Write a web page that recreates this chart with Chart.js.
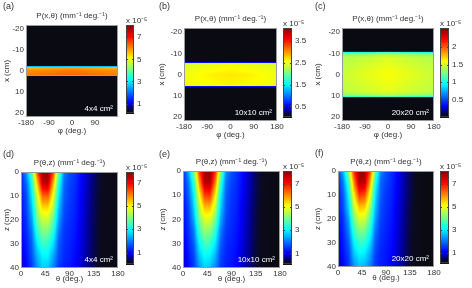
<!DOCTYPE html>
<html>
<head>
<meta charset="utf-8">
<script src="https://cdn.jsdelivr.net/npm/chart.js@4.4.0/dist/chart.umd.min.js"></script>
<style>
  html, body { margin: 0; padding: 0; background: #fff; }
  #fig { position: relative; width: 472px; height: 288px; overflow: hidden; font-family: "Liberation Sans", Arial, sans-serif; }
  #fig canvas { position: absolute; }
  .tag { position: absolute; font-size: 9px; color: #333; line-height: 9px; }
</style>
</head>
<body>
<div id="fig"></div>
<script>
// ---- data (values in units of 1e-5 mm^-1 deg^-1) ----

// top row: P(x, phi), rows = x nodes (cm), columns = phi nodes (deg)
const phiNodes = [-180, -90, 0, 90, 180];

const xNodesA = [-22, -2.8, -2.3, -1.9, 0, 1.9, 2.3, 2.8, 22];
const valsA = [
  [0, 0, 0, 0, 0],
  [0, 0, 0, 0, 0],
  [0.8, 0.8, 0.8, 0.8, 0.8],
  [5.6, 5.7, 5.8, 5.7, 5.6],
  [6.0, 6.1, 6.2, 6.1, 6.0],
  [6.1, 6.2, 6.3, 6.2, 6.1],
  [0.8, 0.8, 0.8, 0.8, 0.8],
  [0, 0, 0, 0, 0],
  [0, 0, 0, 0, 0]
];

const xNodesB = [-22, -6.0, -5.6, -5.2, 0, 5.2, 5.6, 6.0, 22];
const valsB = [
  [0, 0, 0, 0, 0],
  [0, 0, 0, 0, 0],
  [0.7, 0.7, 0.7, 0.7, 0.7],
  [2.4, 2.45, 2.5, 2.45, 2.4],
  [2.5, 2.6, 2.65, 2.6, 2.5],
  [2.5, 2.55, 2.6, 2.55, 2.5],
  [0.7, 0.7, 0.7, 0.7, 0.7],
  [0, 0, 0, 0, 0],
  [0, 0, 0, 0, 0]
];

const xNodesC = [-22, -11.2, -10.8, -10.3, -8, 0, 8, 10.3, 10.8, 11.2, 22];
const valsC = [
  [0, 0, 0, 0, 0],
  [0, 0, 0, 0, 0],
  [0.45, 0.45, 0.45, 0.45, 0.45],
  [1.2, 1.25, 1.3, 1.25, 1.2],
  [1.4, 1.44, 1.5, 1.44, 1.4],
  [1.45, 1.52, 1.58, 1.52, 1.45],
  [1.42, 1.47, 1.52, 1.47, 1.42],
  [1.25, 1.3, 1.35, 1.3, 1.25],
  [0.45, 0.45, 0.45, 0.45, 0.45],
  [0, 0, 0, 0, 0],
  [0, 0, 0, 0, 0]
];

// bottom row: P(theta, z), rows = z nodes (cm), columns = theta nodes (deg)
const thetaNodes = [0, 10, 20, 30, 40, 50, 60, 70, 80, 90, 100, 110, 120, 130, 140, 150, 160, 170, 180];
const zNodes = [0, 5, 10, 15, 20, 25, 30, 35, 40];

const valsD = [
  [1.2, 2.2, 3.6, 6.3, 7.7, 7.8, 6.4, 3.8, 2.0, 1.6, 1.4, 1.1, 0.8, 0.55, 0.35, 0.22, 0.14, 0.1, 0.08],
  [1.2, 1.8, 3.1, 5.3, 7.3, 7.4, 5.5, 3.2, 1.8, 1.5, 1.35, 1.05, 0.78, 0.52, 0.33, 0.21, 0.13, 0.1, 0.08],
  [1.1, 1.6, 2.8, 4.6, 6.1, 6.2, 4.8, 2.8, 1.7, 1.45, 1.3, 1.0, 0.75, 0.5, 0.32, 0.2, 0.13, 0.1, 0.08],
  [1.1, 1.5, 2.5, 4.2, 5.2, 5.2, 4.3, 2.5, 1.6, 1.4, 1.25, 1.0, 0.72, 0.48, 0.31, 0.2, 0.12, 0.09, 0.08],
  [1.0, 1.4, 2.2, 3.8, 4.5, 4.5, 3.7, 2.2, 1.5, 1.35, 1.2, 0.95, 0.7, 0.46, 0.3, 0.19, 0.12, 0.09, 0.08],
  [1.0, 1.3, 1.9, 3.3, 3.9, 3.9, 3.2, 1.9, 1.4, 1.3, 1.15, 0.92, 0.68, 0.45, 0.29, 0.18, 0.12, 0.09, 0.07],
  [0.9, 1.2, 1.7, 2.8, 3.4, 3.3, 2.7, 1.7, 1.35, 1.25, 1.1, 0.9, 0.66, 0.44, 0.28, 0.18, 0.11, 0.09, 0.07],
  [0.8, 1.1, 1.6, 2.4, 2.9, 2.9, 2.3, 1.6, 1.3, 1.2, 1.05, 0.86, 0.64, 0.42, 0.27, 0.17, 0.11, 0.08, 0.07],
  [0.7, 1.0, 1.4, 2.1, 2.6, 2.5, 2.0, 1.4, 1.2, 1.15, 1.0, 0.83, 0.6, 0.4, 0.26, 0.17, 0.11, 0.08, 0.07]
];

const valsE = [
  [1.3, 2.4, 4.0, 6.6, 7.9, 8.0, 6.8, 4.2, 2.2, 1.7, 1.45, 1.15, 0.85, 0.58, 0.37, 0.23, 0.15, 0.1, 0.08],
  [1.3, 2.0, 3.4, 5.8, 7.6, 7.7, 6.0, 3.5, 1.9, 1.6, 1.4, 1.1, 0.82, 0.55, 0.35, 0.22, 0.14, 0.1, 0.08],
  [1.2, 1.8, 3.0, 5.0, 6.6, 6.7, 5.2, 3.0, 1.8, 1.5, 1.35, 1.05, 0.8, 0.53, 0.34, 0.21, 0.13, 0.1, 0.08],
  [1.1, 1.6, 2.7, 4.5, 5.6, 5.6, 4.6, 2.7, 1.7, 1.45, 1.3, 1.0, 0.76, 0.5, 0.32, 0.2, 0.13, 0.09, 0.08],
  [1.1, 1.5, 2.4, 4.0, 4.8, 4.8, 4.0, 2.4, 1.6, 1.4, 1.25, 1.0, 0.73, 0.48, 0.31, 0.2, 0.12, 0.09, 0.08],
  [1.0, 1.4, 2.0, 3.5, 4.2, 4.1, 3.4, 2.0, 1.5, 1.35, 1.2, 0.95, 0.7, 0.46, 0.3, 0.19, 0.12, 0.09, 0.07],
  [0.9, 1.3, 1.8, 3.0, 3.6, 3.5, 2.9, 1.8, 1.4, 1.3, 1.15, 0.92, 0.68, 0.45, 0.29, 0.18, 0.11, 0.09, 0.07],
  [0.85, 1.2, 1.6, 2.6, 3.1, 3.0, 2.5, 1.6, 1.35, 1.25, 1.1, 0.88, 0.66, 0.43, 0.28, 0.18, 0.11, 0.08, 0.07],
  [0.75, 1.1, 1.5, 2.2, 2.7, 2.6, 2.1, 1.5, 1.3, 1.2, 1.05, 0.85, 0.62, 0.41, 0.27, 0.17, 0.11, 0.08, 0.07]
];

const valsF = [
  [1.4, 2.6, 4.3, 6.8, 8.0, 7.9, 6.6, 4.0, 2.1, 1.7, 1.45, 1.15, 0.85, 0.57, 0.36, 0.23, 0.15, 0.1, 0.08],
  [1.3, 2.1, 3.6, 6.0, 7.7, 7.6, 5.8, 3.3, 1.9, 1.6, 1.4, 1.1, 0.82, 0.55, 0.35, 0.22, 0.14, 0.1, 0.08],
  [1.2, 1.8, 3.1, 5.2, 6.7, 6.5, 5.0, 2.9, 1.8, 1.5, 1.35, 1.05, 0.8, 0.53, 0.34, 0.21, 0.13, 0.1, 0.08],
  [1.2, 1.7, 2.8, 4.6, 5.6, 5.5, 4.4, 2.6, 1.7, 1.45, 1.3, 1.0, 0.76, 0.5, 0.32, 0.2, 0.13, 0.09, 0.08],
  [1.1, 1.5, 2.4, 4.0, 4.8, 4.7, 3.8, 2.3, 1.6, 1.4, 1.25, 1.0, 0.73, 0.48, 0.31, 0.2, 0.12, 0.09, 0.08],
  [1.0, 1.4, 2.1, 3.5, 4.1, 4.0, 3.3, 2.0, 1.5, 1.35, 1.2, 0.95, 0.7, 0.46, 0.3, 0.19, 0.12, 0.09, 0.07],
  [0.9, 1.3, 1.8, 3.0, 3.5, 3.4, 2.8, 1.8, 1.4, 1.3, 1.15, 0.92, 0.68, 0.45, 0.29, 0.18, 0.11, 0.09, 0.07],
  [0.85, 1.2, 1.6, 2.6, 3.0, 2.9, 2.4, 1.6, 1.35, 1.25, 1.1, 0.88, 0.66, 0.43, 0.28, 0.18, 0.11, 0.08, 0.07],
  [0.75, 1.1, 1.5, 2.2, 2.6, 2.5, 2.1, 1.5, 1.3, 1.2, 1.05, 0.85, 0.62, 0.41, 0.27, 0.17, 0.11, 0.08, 0.07]
];

// axis ticks
const phiTicksA = [-180, -90, 0, 90];
const phiTicks = [-180, -90, 0, 90, 180];
const xTicks = [-20, -10, 0, 10, 20];
const thetaTicks = [0, 45, 90, 135, 180];
const zTicks = [0, 10, 20, 30, 40];

// colour bars: limits and tick labels
const cbRangeA = [0.13, 8.1], cbTicksA = [1, 3, 5, 7];
const cbRangeB = [0, 4.1], cbTicksB = [0.5, 1.5, 2.5, 3.5];
const cbRangeC = [0, 2.54], cbTicksC = [0.5, 1, 1.5, 2];
const cbRangeD = [0, 7.9], cbTicksD = [1, 3, 5, 7];
const cbRangeE = [0.06, 8.1], cbTicksE = [1, 3, 5, 7];
const cbRangeF = [0.08, 8.1], cbTicksF = [1, 3, 5, 7];

const fieldSizes = ['4x4 cm\u00B2', '10x10 cm\u00B2', '20x20 cm\u00B2'];

// ---- styling ----
const FONT = '"Liberation Sans", Arial, sans-serif';
const TXT = '#333';
const UNIT = '(mm\u207B\u00B9 deg.\u207B\u00B9)';

// jet, with the bottom end running into black
const cmapStops = [
  [0, [10, 10, 18]],
  [0.025, [10, 10, 30]],
  [0.07, [0, 0, 150]],
  [0.125, [0, 0, 255]],
  [0.375, [0, 255, 255]],
  [0.625, [255, 255, 0]],
  [0.875, [255, 0, 0]],
  [1, [128, 0, 0]]
];

function colorFor(t) {
  t = Math.max(0, Math.min(1, t));
  for (let i = 1; i < cmapStops.length; i++) {
    const [t1, c1] = cmapStops[i];
    if (t <= t1) {
      const [t0, c0] = cmapStops[i - 1];
      const f = (t - t0) / (t1 - t0);
      return [0, 1, 2].map(k => Math.round(c0[k] + (c1[k] - c0[k]) * f));
    }
  }
  return cmapStops[cmapStops.length - 1][1];
}

function lookup(nodes, v) {
  const n = nodes.length - 1;
  if (v <= nodes[0]) return [0, 0];
  if (v >= nodes[n]) return [n - 1, 1];
  let i = 0;
  while (v > nodes[i + 1]) i++;
  return [i, (v - nodes[i]) / (nodes[i + 1] - nodes[i])];
}

function sample(o, xv, yv) {
  const [i, fx] = lookup(o.xs, xv);
  const [j, fy] = lookup(o.ys, yv);
  const v = o.vals;
  const top = v[j][i] * (1 - fx) + v[j][i + 1] * fx;
  const bot = v[j + 1][i] * (1 - fx) + v[j + 1][i + 1] * fx;
  return top * (1 - fy) + bot * fy;
}

// paints the map cell by cell through the chart scales
const heatPlugin = {
  id: 'heat',
  beforeDatasetsDraw(chart, args, o) {
    if (!o.vals) return;
    const { ctx, chartArea: a, scales } = chart;
    const w = Math.round(a.right - a.left), h = Math.round(a.bottom - a.top);
    const off = document.createElement('canvas');
    off.width = w; off.height = h;
    const octx = off.getContext('2d');
    const img = octx.createImageData(w, h);
    for (let py = 0; py < h; py++) {
      const yv = scales.y.getValueForPixel(a.top + py + 0.5);
      for (let px = 0; px < w; px++) {
        const xv = scales.x.getValueForPixel(a.left + px + 0.5);
        const c = colorFor((sample(o, xv, yv) - o.cmin) / (o.cmax - o.cmin));
        const k = (py * w + px) * 4;
        img.data[k] = c[0]; img.data[k + 1] = c[1]; img.data[k + 2] = c[2]; img.data[k + 3] = 255;
      }
    }
    octx.putImageData(img, 0, 0);
    ctx.drawImage(off, a.left, a.top, w, h);
  },
  afterDraw(chart, args, o) {
    if (!o.vals) return;
    const { ctx, chartArea: a } = chart;
    ctx.save();
    ctx.strokeStyle = '#9a9a9a';
    ctx.lineWidth = 1;
    ctx.strokeRect(a.left + 0.5, a.top + 0.5, a.right - a.left - 1, a.bottom - a.top - 1);
    ctx.fillStyle = '#fff';
    ctx.font = '8px ' + FONT;
    ctx.textAlign = 'right';
    ctx.textBaseline = 'alphabetic';
    ctx.fillText(o.label, a.right - 5, a.bottom - 6);
    ctx.restore();
  }
};

// colour bar gradient, drawn from its own y scale
const cbarPlugin = {
  id: 'cbar',
  beforeDatasetsDraw(chart, args, o) {
    if (o.cmax === undefined) return;
    const { ctx, chartArea: a, scales } = chart;
    for (let py = Math.floor(a.top); py < a.bottom; py++) {
      const c = colorFor((scales.y.getValueForPixel(py + 0.5) - o.cmin) / (o.cmax - o.cmin));
      ctx.fillStyle = 'rgb(' + c.join(',') + ')';
      ctx.fillRect(a.left, py, a.right - a.left, 1);
    }
    ctx.save();
    ctx.strokeStyle = '#444';
    ctx.lineWidth = 1;
    scales.y.ticks.forEach(t => {
      const y = Math.round(scales.y.getPixelForValue(t.value)) + 0.5;
      ctx.beginPath();
      ctx.moveTo(a.left, y); ctx.lineTo(a.left + 2, y);
      ctx.moveTo(a.right - 2, y); ctx.lineTo(a.right, y);
      ctx.stroke();
    });
    ctx.strokeRect(a.left + 0.5, a.top + 0.5, a.right - a.left - 1, a.bottom - a.top - 1);
    ctx.restore();
  }
};

Chart.register(heatPlugin, cbarPlugin);

const fig = document.getElementById('fig');

function addCanvas(left, top, w, h) {
  const cv = document.createElement('canvas');
  cv.width = w; cv.height = h;
  cv.style.left = left + 'px'; cv.style.top = top + 'px';
  cv.style.width = w + 'px'; cv.style.height = h + 'px';
  fig.appendChild(cv);
  return cv;
}

function fixedTicks(list) {
  return s => { s.ticks = list.map(v => ({ value: v })); };
}

function makeMap(p) {
  const [L, T, R, B] = p.box;
  const cv = addCanvas(L - p.yW, T - 20, (R - L) + p.yW + 10, (B - T) + 20 + p.xH);
  const tickFont = { family: FONT, size: 8 };
  new Chart(cv, {
    type: 'scatter',
    data: { datasets: [] },
    options: {
      responsive: false,
      animation: false,
      events: [],
      layout: { padding: { left: 0, right: 10, top: 0, bottom: 0 } },
      plugins: {
        legend: { display: false },
        tooltip: { enabled: false },
        title: {
          display: true, text: p.title, fullSize: false, color: TXT,
          font: { family: FONT, size: 8, weight: 'normal' },
          padding: { top: 6, bottom: 4.4 }
        },
        heat: { xs: p.xs, ys: p.ys, vals: p.vals, cmin: p.range[0], cmax: p.range[1], label: p.label }
      },
      scales: {
        x: {
          type: 'linear', min: p.xRange[0], max: p.xRange[1],
          afterBuildTicks: fixedTicks(p.xTicks),
          afterFit: s => { s.height = p.xH; },
          grid: { display: false, drawTicks: false },
          border: { display: false },
          ticks: { padding: 1, color: TXT, font: tickFont, maxRotation: 0, autoSkip: false, callback: v => String(v) },
          title: { display: true, text: p.xTitle, color: TXT, font: tickFont, padding: { top: 0, bottom: p.xTitlePad } }
        },
        y: {
          type: 'linear', min: p.yRange[0], max: p.yRange[1], reverse: true,
          afterBuildTicks: fixedTicks(p.yTicks),
          afterFit: s => { s.width = p.yW; },
          grid: { display: false, drawTicks: false },
          border: { display: false },
          ticks: { padding: 2, color: TXT, font: tickFont, autoSkip: false, callback: v => String(v) },
          title: { display: true, text: p.yTitle, color: TXT, font: tickFont, padding: { top: 2.2, bottom: 0 } }
        }
      }
    }
  });
}

function makeBar(box, range, ticks) {
  const [L, T, R, B] = box;
  const cv = addCanvas(L, T - 12, (R - L) + 28, (B - T) + 12 + 4);
  new Chart(cv, {
    type: 'scatter',
    data: { datasets: [] },
    options: {
      responsive: false,
      animation: false,
      events: [],
      layout: { padding: { left: 0, right: 8, top: 0, bottom: 4 } },
      plugins: {
        legend: { display: false },
        tooltip: { enabled: false },
        title: {
          display: true, text: 'x 10\u207B\u2075', align: 'start', fullSize: true, color: TXT,
          font: { family: FONT, size: 8, weight: 'normal' },
          padding: { top: 2.5, bottom: -0.1 }
        },
        cbar: { cmin: range[0], cmax: range[1] }
      },
      scales: {
        x: { display: false, min: 0, max: 1 },
        y: {
          position: 'right', min: range[0], max: range[1],
          afterBuildTicks: fixedTicks(ticks),
          afterFit: s => { s.width = 20; },
          grid: { display: false, drawTicks: false },
          border: { display: false },
          ticks: { padding: 3, color: TXT, font: { family: FONT, size: 8 }, callback: v => String(v) }
        }
      }
    }
  });
}

function addTag(text, x, y) {
  const d = document.createElement('div');
  d.className = 'tag';
  d.textContent = text;
  d.style.left = x + 'px';
  d.style.top = y + 'px';
  fig.appendChild(d);
}

// ---- top row ----
const topTitle = 'P(x,\u03B8) ' + UNIT;
const topCommon = {
  title: topTitle, xs: phiNodes, xRange: [-180, 180], yRange: [-22, 22], yTicks: xTicks,
  xTitle: '\u03C6 (deg.)', yTitle: 'x (cm)', xH: 19, xTitlePad: 0.2
};
makeMap({ ...topCommon, box: [26, 25, 118, 117], yW: 26, ys: xNodesA, vals: valsA, range: cbRangeA, xTicks: phiTicksA, label: fieldSizes[0] });
makeMap({ ...topCommon, box: [184, 28, 277, 121], yW: 29, ys: xNodesB, vals: valsB, range: cbRangeB, xTicks: phiTicks, label: fieldSizes[1] });
makeMap({ ...topCommon, box: [342, 28, 434, 121], yW: 31, ys: xNodesC, vals: valsC, range: cbRangeC, xTicks: phiTicks, label: fieldSizes[2] });
makeBar([126, 25, 134, 117], cbRangeA, cbTicksA);
makeBar([283, 28, 292, 121], cbRangeB, cbTicksB);
makeBar([440, 28, 449, 121], cbRangeC, cbTicksC);

// ---- bottom row ----
const botTitle = 'P(\u03B8,z) ' + UNIT;
const botCommon = {
  title: botTitle, xs: thetaNodes, ys: zNodes, xRange: [0, 180], yRange: [0, 40],
  xTicks: thetaTicks, yTicks: zTicks, xTitle: '\u03B8 (deg.)', yTitle: 'z (cm)', xH: 16, xTitlePad: 0.7
};
makeMap({ ...botCommon, box: [21, 172, 118, 268], yW: 21, vals: valsD, range: cbRangeD, label: fieldSizes[0] });
makeMap({ ...botCommon, box: [183, 171, 280, 268], yW: 27, vals: valsE, range: cbRangeE, label: fieldSizes[1] });
makeMap({ ...botCommon, box: [338, 171, 434, 267], yW: 27, vals: valsF, range: cbRangeF, label: fieldSizes[2] });
makeBar([126, 172, 134, 268], cbRangeD, cbTicksD);
makeBar([283, 171, 292, 268], cbRangeE, cbTicksE);
makeBar([440, 171, 449, 267], cbRangeF, cbTicksF);

// panel letters
addTag('(a)', 3, 2);
addTag('(b)', 159, 2);
addTag('(c)', 315, 2);
addTag('(d)', 3, 150);
addTag('(e)', 159, 150);
addTag('(f)', 315, 149);
</script>
</body>
</html>
